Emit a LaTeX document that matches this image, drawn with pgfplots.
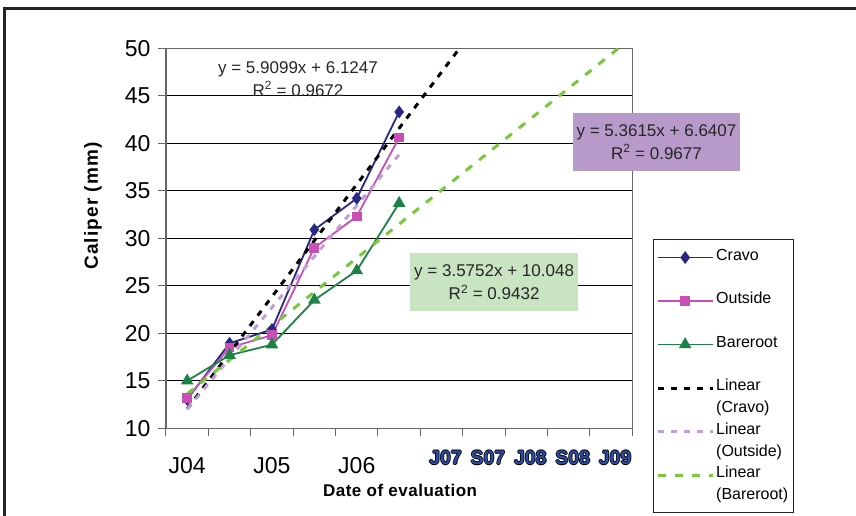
\documentclass[border=0pt]{standalone}
\usepackage{pgfplots}
\pgfplotsset{compat=1.18}
\usepackage{fontspec}
\setmainfont{Liberation Sans}
\newfontfamily\lblfont[LetterSpace=3]{Liberation Sans}
\newfontfamily\ylblfont[LetterSpace=6]{Liberation Sans}
\definecolor{cravo}{RGB}{40,40,130}
\definecolor{outside}{RGB}{200,80,180}
\definecolor{bareroot}{RGB}{30,130,70}
\definecolor{linout}{RGB}{190,160,215}
\definecolor{linbare}{RGB}{120,200,60}
\definecolor{purplebox}{RGB}{183,154,201}
\definecolor{greenbox}{RGB}{200,228,192}
\definecolor{olblue}{RGB}{45,75,160}
\newcommand{\olab}[1]{\raisebox{8pt}[\height][\depth]{\fontsize{19.5}{24}\selectfont\bfseries\kern4pt\rlap{\kern0.8pt\textcolor{black}{#1}}\rlap{\kern-0.8pt\textcolor{black}{#1}}\rlap{\raisebox{0.8pt}{\textcolor{black}{#1}}}\rlap{\raisebox{-0.8pt}{\textcolor{black}{#1}}}\textcolor{olblue}{#1}\kern-4pt}}
\newcommand{\legtwo}[2]{\vtop{\hbox{\strut#1}\hbox{\strut#2}}}
\begin{document}
\begin{tikzpicture}
\path[use as bounding box] (-166pt,-87.7pt) rectangle (690pt,428.3pt);
\begin{axis}[
  at={(0pt,0pt)}, anchor=south west,
  scale only axis, width=466.3pt, height=380pt,
  xmin=0.5, xmax=11.5, ymin=10, ymax=50,
  ytick={10,15,...,50},
  xtick={1,3,5,7,8,9,10,11},
  xticklabels={J04,J05,J06,\olab{J07},\olab{S07},\olab{J08},\olab{S08},\olab{J09}},
  minor xtick={0.5,1.5,...,11.5},
  tick align=outside, tick pos=left,
  major tick length=8pt, minor tick length=8pt,
  major x tick style={draw=none},
  tick style={black!60, line width=1pt},
  ymajorgrids, major grid style={black, line width=0.8pt},
  axis line style={black!60, line width=1.5pt},
  ticklabel style={font=\fontsize{23}{25}\selectfont},
  xticklabel style={yshift=-18pt},
  yticklabel style={xshift=-4pt},
  /pgf/number format/assume math mode=true,
  xlabel={Date of evaluation}, ylabel={Caliper (mm)},
  xlabel style={font=\fontsize{17}{19}\selectfont\lblfont\bfseries, at={(axis description cs:0.502,-0.1624)},anchor=center},
  ylabel style={font=\fontsize{19}{21}\selectfont\ylblfont\bfseries, at={(axis description cs:-0.1566,0.585)},anchor=center},
  clip=false,
  legend style={at={(axis description cs:1.0437,0.4974)}, anchor=north west,
    draw=black!85, line width=1pt, font=\fontsize{16}{22}\selectfont,
    cells={anchor=mid west},
    row sep=22.6pt, column sep=0pt,
    inner xsep=3pt, inner ysep=3pt},
  legend image code/.code={\draw[mark repeat=2,mark phase=2,#1] plot coordinates {(0pt,0pt) (27.5pt,0pt) (55pt,0pt)};},
]
\addplot[cravo, line width=1.8pt, mark=diamond*, mark size=5pt, mark options={solid, fill=cravo}]
  coordinates {(1,13.05)(2,18.95)(3,20.4)(4,30.9)(5,34.2)(6,43.3)};
\addlegendentry{\legtwo{Cravo}{}}
\addplot[outside, line width=1.8pt, mark=square*, mark size=4pt, mark options={solid, fill=outside}]
  coordinates {(1,13.2)(2,18.5)(3,19.8)(4,29.0)(5,32.3)(6,40.6)};
\addlegendentry{\legtwo{Outside}{}}
\addplot[bareroot, line width=1.8pt, mark=triangle*, mark size=5.5pt, mark options={solid, fill=bareroot}]
  coordinates {(1,15.0)(2,17.7)(3,18.8)(4,23.5)(5,26.6)(6,33.7)};
\addlegendentry{\legtwo{Bareroot}{}}
\addplot[black, line width=3pt, dash pattern=on 6pt off 7pt]
  coordinates {(1,12.0346)(7.424,50)};
\addlegendentry{\legtwo{Linear}{(Cravo)}}
\addplot[linout, line width=3pt, dash pattern=on 6pt off 7pt]
  coordinates {(1,12.0022)(6,38.8097)};
\addlegendentry{\legtwo{Linear}{(Outside)}}
\addplot[linbare, line width=3pt, dash pattern=on 8pt off 9pt]
  coordinates {(1,13.6232)(11.1748,50)};
\addlegendentry{\legtwo{Linear}{(Bareroot)}}
\addlegendimage{empty legend}
\addlegendentry{}
\node[align=center, font=\fontsize{17}{23}\selectfont, text=black!85] at (axis cs:3.614,46.8)
  {y = 5.9099x + 6.1247\\R\textsuperscript{2} = 0.9672};
\node[align=center, fill=purplebox, minimum width=167pt, minimum height=58pt, font=\fontsize{17}{23}\selectfont, text=black!85] at (axis cs:12.07,40.17)
  {y = 5.3615x + 6.6407\\R\textsuperscript{2} = 0.9677};
\node[align=center, fill=greenbox, minimum width=168pt, minimum height=58pt, font=\fontsize{17}{23}\selectfont, text=black!85] at (axis cs:8.24,25.4)
  {y = 3.5752x + 10.048\\R\textsuperscript{2} = 0.9432};
\end{axis}
\draw[line width=3pt, black!85] (-161pt,-87.7pt) -- (-161pt,419.3pt) -- (690pt,419.3pt);
\end{tikzpicture}
\end{document}
